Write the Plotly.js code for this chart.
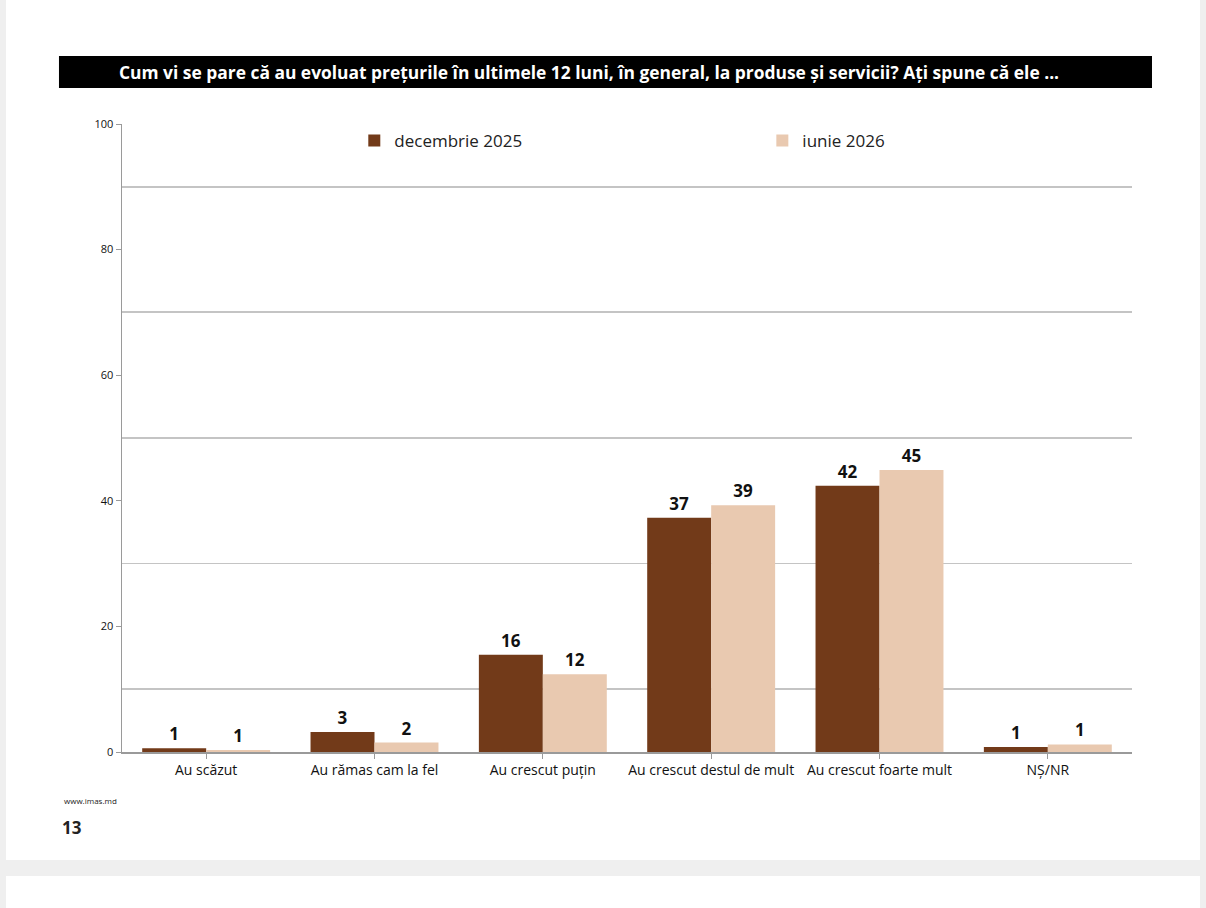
<!DOCTYPE html>
<html>
<head>
<meta charset="utf-8">
<script src="https://cdn.plot.ly/plotly-3.0.1.min.js"></script>
<style>
body { margin: 0; background: #efefef; width: 1206px; height: 908px; overflow: hidden; position: relative; }
#chart { position: absolute; left: 6px; top: 0; width: 1194px; height: 860px; background: #fff; }
#next { position: absolute; left: 6px; top: 876px; width: 1194px; height: 40px; background: #fff; }
</style>
</head>
<body>
<div id="chart"></div>
<div id="next"></div>
<script>
const categories = ["Au scăzut", "Au rămas cam la fel", "Au crescut puțin", "Au crescut destul de mult", "Au crescut foarte mult", "NȘ/NR"];
const dec2025 = [0.6, 3.2, 15.5, 37.3, 42.4, 0.8];
const dec2025_labels = ["<b>1</b>", "<b>3</b>", "<b>16</b>", "<b>37</b>", "<b>42</b>", "<b>1</b>"];
const iun2026 = [0.3, 1.5, 12.4, 39.3, 44.9, 1.2];
const iun2026_labels = ["<b>1</b>", "<b>2</b>", "<b>12</b>", "<b>39</b>", "<b>45</b>", "<b>1</b>"];
const grid_values = [10, 30, 50, 70, 90];

const label_font = {family: "Open Sans, sans-serif", size: 17, color: "#111"};

const chart_data = [
	{
		type: "bar", x: categories, y: dec2025, name: "decembrie 2025",
		text: dec2025_labels, textposition: "outside", textfont: label_font,
		marker: {color: "rgb(114,58,25)"}, cliponaxis: false, legend: "legend"
	},
	{
		type: "bar", x: categories, y: iun2026, name: "iunie 2026",
		text: iun2026_labels, textposition: "outside", textfont: label_font,
		marker: {color: "rgb(233,201,176)"}, cliponaxis: false, legend: "legend2"
	},
	{
		// invisible trace carrying the odd-number gridlines
		type: "scatter", x: [categories[0]], y: [0], yaxis: "y2", mode: "markers",
		marker: {opacity: 0}, showlegend: false, hoverinfo: "skip"
	}
];

const legend_base = {orientation: "h", yanchor: "middle", xanchor: "left", font: {family: "Open Sans, sans-serif", size: 17, color: "#222"}, bgcolor: "rgba(0,0,0,0)"};

const chart_layout = {
	width: 1194, height: 860,
	paper_bgcolor: "#fff", plot_bgcolor: "#fff",
	margin: {l: 116, r: 68, t: 124, b: 108},
	barmode: "group", bargap: 0.24, bargroupgap: 0,
	font: {family: "Open Sans, sans-serif", color: "#222"},
	xaxis: {
		showline: true, linecolor: "#9a9a9a", linewidth: 1.5,
		ticks: "outside", ticklen: 5, tickcolor: "#9a9a9a",
		tickfont: {size: 14, color: "#111"}, showgrid: false
	},
	yaxis: {
		range: [0, 100], tickvals: [0, 20, 40, 60, 80, 100],
		showline: true, linecolor: "#9a9a9a", linewidth: 1.5,
		ticks: "outside", ticklen: 5, tickcolor: "#9a9a9a",
		tickfont: {size: 11, color: "#111"}, showgrid: false, zeroline: false
	},
	yaxis2: {
		overlaying: "y", range: [0, 100], tickvals: grid_values, showticklabels: false,
		showgrid: true, gridcolor: "#c4c4c4", gridwidth: 1.8, zeroline: false
	},
	legend: Object.assign({x: 0.23, y: 0.973}, legend_base),
	legend2: Object.assign({x: 0.634, y: 0.973}, legend_base),
	shapes: [
		{type: "rect", xref: "paper", yref: "paper", x0: -0.0624, x1: 1.0198, y0: 1.0573, y1: 1.1083, fillcolor: "#000", line: {width: 0}, layer: "below"}
	],
	annotations: [
		{xref: "paper", yref: "paper", x: 0.462, y: 1.0828, xanchor: "center", yanchor: "middle", showarrow: false,
		 text: "<b>Cum vi se pare că au evoluat prețurile în ultimele 12 luni, în general, la produse și servicii? Ați spune că ele ...</b>",
		 font: {size: 17.4, color: "#fff"}},
		{xref: "paper", yref: "paper", x: -0.0595, y: -0.078, xanchor: "left", yanchor: "middle", showarrow: false,
		 text: "www.imas.md", font: {size: 8, color: "#222"}},
		{xref: "paper", yref: "paper", x: -0.0615, y: -0.12, xanchor: "left", yanchor: "middle", showarrow: false,
		 text: "<b>13</b>", font: {size: 17, color: "#222"}}
	]
};

Plotly.newPlot("chart", chart_data, chart_layout, {displayModeBar: false, staticPlot: true});
</script>
</body>
</html>
